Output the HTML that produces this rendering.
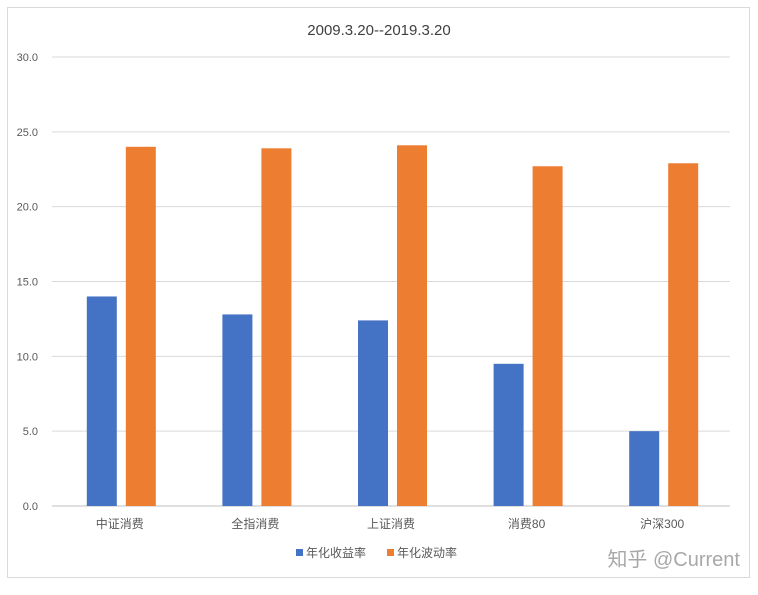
<!DOCTYPE html>
<html><head><meta charset="utf-8"><style>
body{margin:0;background:#fff;width:758px;height:590px;overflow:hidden;font-family:"Liberation Sans","Noto Sans CJK SC",sans-serif;}
svg text{font-family:"Liberation Sans","Noto Sans CJK SC",sans-serif;}
</style></head><body>
<svg width="758" height="590">
<rect x="7.5" y="7.5" width="742" height="570" fill="#fff" stroke="#d9d9d9"/>
<text x="379" y="35" text-anchor="middle" font-size="15" fill="#404040">2009.3.20--2019.3.20</text>
<g id="grid"></g><g id="bars"></g><g id="labels"></g>
<g>
<rect x="296" y="549" width="7" height="7" fill="#4472c4"/>
<text x="306" y="557" font-size="12" fill="#595959">年化收益率</text>
<rect x="387" y="549" width="7" height="7" fill="#ed7d31"/>
<text x="397" y="557" font-size="12" fill="#595959">年化波动率</text>
</g>
<text x="740" y="566" text-anchor="end" font-size="20" fill="#9a9a9a" opacity="0.85">知乎 @Current</text>
</svg>
<script>
const categories=["中证消费","全指消费","上证消费","消费80","沪深300"];
const returnValues=[14.0,12.8,12.4,9.5,5.0];
const volatilityValues=[24.0,23.9,24.1,22.7,22.9];
const tickLabels=["0.0","5.0","10.0","15.0","20.0","25.0","30.0"];
const ticks=[0,5,10,15,20,25,30];
const NS="http://www.w3.org/2000/svg";
const x0=52,x1=730,y0=506,y1=57,yMax=30;
const y=v=>y0-(v/yMax)*(y0-y1);
const bw=(x1-x0)/categories.length;
const cx=i=>x0+bw*(i+0.5);
function mk(t,a,p){const e=document.createElementNS(NS,t);for(const k in a)e.setAttribute(k,a[k]);p.appendChild(e);return e;}
const g=document.getElementById('grid'),b=document.getElementById('bars'),l=document.getElementById('labels');
ticks.forEach((t,i)=>{
const ln=mk('line',{x1:x0,x2:x1,y1:y(t),y2:y(t),stroke:t===0?'#bfbfbf':'#d9d9d9'},g);


const tx=mk('text',{x:38,y:y(t)+4,'text-anchor':'end','font-size':11,fill:'#595959'},g);
tx.textContent=tickLabels[i];


});
categories.forEach((c,i)=>{
const r1=mk('rect',{x:cx(i)-33,y:y(returnValues[i]),width:30,height:y0-y(returnValues[i]),fill:'#4472c4'},b);


const r2=mk('rect',{x:cx(i)+6,y:y(volatilityValues[i]),width:30,height:y0-y(volatilityValues[i]),fill:'#ed7d31'},b);


const t=mk('text',{x:cx(i),y:528,'text-anchor':'middle','font-size':12,fill:'#595959'},l);
t.textContent=c;


});
</script>
</body></html>
